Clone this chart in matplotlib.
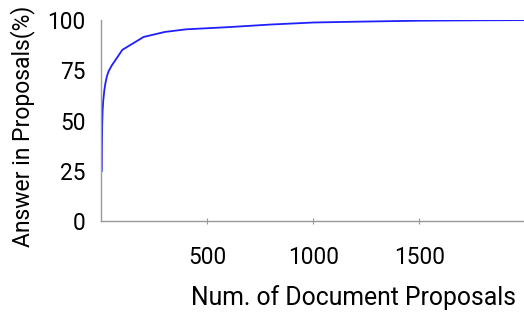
import matplotlib
matplotlib.use("Agg")
import matplotlib.pyplot as plt

# number of document proposals vs. % of answers found in them
num_proposals = [3, 4, 5, 7, 10, 15, 20, 27, 35, 50, 100, 200, 300, 400, 600, 800, 1000, 1200, 1500, 1800, 2000]
answer_pct = [25, 40, 48, 55, 60, 65, 68.5, 72, 74.5, 77.4, 85.2, 91.6, 94.1, 95.4, 96.5, 97.8, 98.8, 99.2, 99.7, 99.9, 100]

plt.rcParams['font.family'] = ['Roboto', 'DejaVu Sans']

fig = plt.figure(figsize=(5.24, 3.14), dpi=100)
ax = fig.add_axes([0.193, 0.296, 0.81, 0.64])

ax.plot(num_proposals, answer_pct, color='#1f1fff', lw=1.3)

ax.set_xlim(0, 2000)
ax.set_ylim(0, 100)
ax.set_xticks([500, 1000, 1500])
ax.set_yticks([0, 25, 50, 75, 100])

for s in ['top', 'right']:
    ax.spines[s].set_visible(False)
for s in ['left', 'bottom']:
    ax.spines[s].set_color('#999999')
    ax.spines[s].set_linewidth(1)

ax.tick_params(axis='x', direction='inout', length=4, color='#999999', labelsize=16.3, pad=16)
ax.tick_params(axis='y', length=0, labelsize=16.3, pad=11)

ax.set_xlabel("Num. of Document Proposals", fontsize=17.8)
ax.set_ylabel("Answer in Proposals(%)", fontsize=16.5)
ax.xaxis.set_label_coords(0.5935, -0.318)
ax.yaxis.set_label_coords(-0.156, 0.473)

fig.savefig("out.png", dpi=100)
